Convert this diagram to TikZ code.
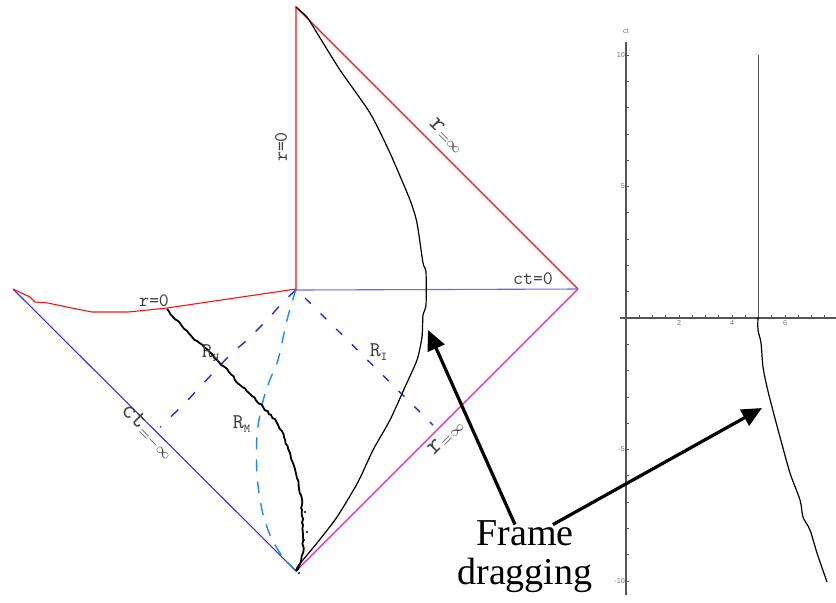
\documentclass[tikz,border=0pt]{standalone}
\usepackage{fontspec}
\setmainfont{Liberation Serif}
\setsansfont{Liberation Sans}
\usepackage{tikz}
\usetikzlibrary{arrows.meta,positioning,calc,decorations.pathmorphing}
\definecolor{nullred}{HTML}{FF1010}
\definecolor{nullblue}{HTML}{3A2CF0}
\definecolor{slicepurple}{HTML}{6A66F8}
\definecolor{scripink}{HTML}{F0209F}
\definecolor{dashblue}{HTML}{2626E6}
\definecolor{dashsky}{HTML}{1E88F5}
\definecolor{axisgray}{HTML}{555555}
\tikzset{
  edge/.style={line width=0.55pt,#1},
  edge/.default={nullred},
  horizon/.style={line width=0.7pt,#1},
  horizon/.default={dashblue},
  wline/.style={black,line width=0.6pt},
  jagged/.style={black,line width=0.9pt,decorate,
    decoration={random steps,segment length=1.6pt,amplitude=0.45pt}},
  lbl/.style={font=\ttfamily\fontsize{9.5}{9.5}\selectfont,text=black!75,inner sep=0pt},
  rlbl/.style={font=\ttfamily\fontsize{10.5}{10.5}\selectfont,text=black!75,inner sep=0pt},
  ticklbl/.style={font=\sffamily\fontsize{3.6}{4}\selectfont,text=black!55,inner sep=0pt},
  fdarrow/.style={-{Triangle[length=10pt,width=9pt]},line width=1.6pt},
}

\begin{document}
\begin{tikzpicture}[x=0.5pt,y=-0.5pt]
  \useasboundingbox (0,0) rectangle (836,602);
  % Penrose-like diagram
  \coordinate (top) at (296,7);
  \coordinate (orig) at (296,290);
  \coordinate (east) at (578,289);
  \coordinate (bot) at (296,571);
  \coordinate (west) at (13,289);
  \draw[edge] (orig) -- (top) -- (east);
  \draw[edge=slicepurple] (orig) -- (east);
  \draw[edge=nullblue] (west) -- (bot);
  \draw[edge=scripink] (bot) -- (east);
  \draw[edge] plot coordinates {(13,289) (30,297) (35,302) (48,303) (67,307)
    (92,312) (128,312) (167,308) (296,289)};

  % horizons
  \draw[horizon,dash pattern=on 5pt off 7pt] plot[smooth] coordinates {(296,290)
    (283,302) (267,320) (247,340) (230,355) (200,387) (183,405) (160,427)};
  \draw[horizon=dashsky,dash pattern=on 6pt off 5pt] plot[smooth] coordinates {(296,289)
    (287,320) (278,360) (269,382) (262,405) (257,435) (257,475) (262,510) (270,535)
    (280,553) (293,568)};
  \draw[horizon,dash pattern=on 4pt off 7pt] (orig) ++(9,8) -- (433,425);

  % world lines
  \pgfmathsetseed{7}
  \draw[jagged] plot coordinates {(167,309) (173,317) (182,326) (192,337) (205,348)
    (217,360) (229,372) (240,385) (252,396) (263,407) (271,415) (277,423) (284,437)
    (290,453) (294,466) (298,480) (301,495) (302,510) (303,525) (303,553) (299,566)
    (296,571)};
  \foreach \px/\py in {307/532, 305/512, 304/540, 299/573}
    \fill (\px,\py) circle (0.6pt);
  \draw[wline] plot[smooth,tension=0.4] coordinates {(296,7) (307,17) (317,33) (340,70)
    (370,113) (390,153) (410,200) (417,223) (423,263) (426,272) (426,305) (423,315)
    (422,337) (417,360) (405,387) (390,420) (373,450) (358,482) (337,517) (317,543)
    (298,566) (296,571)};

  % labels
  \node[lbl] (rzero) at (154,301) {r=0};
  \node[lbl,rotate=90] (rzeroaxis) at (281,147) {r=0};
  \node[lbl] (ctzero) at (533,279) {ct=0};
  \node[lbl,rotate=-45] (rinfup) at (447,136) {{\fontsize{13}{13}\selectfont r}$_{=\infty}$};
  \node[lbl,rotate=45] (rinfdown) at (446,437) {{\fontsize{13}{13}\selectfont r}$_{=\infty}$};
  \node[lbl,rotate=-45] (ctinf) at (148,432) {{\fontsize{13}{13}\selectfont ct}$_{=-\infty}$};
  \node[rlbl] (rh) at (211,353) {R\textsubscript{\fontsize{6}{6}\selectfont H}};
  \node[rlbl] (rm) at (242,424) {R\textsubscript{\fontsize{6}{6}\selectfont M}};
  \node[rlbl] (ri) at (379,352) {R\textsubscript{\fontsize{6}{6}\selectfont I}};

  % ct(r) plot
  \begin{scope}[shift={(626,318)},x=13.25pt,y=13.15pt]
    \draw[axisgray,line width=0.9pt] (0,-10.55) -- (0,10.5);
    \draw[axisgray,line width=0.9pt] (-0.23,0) -- (7.95,0);
    \foreach \k in {-10,...,10}
      \draw[axisgray,line width=0.35pt] (0,\k) -- ++(0.1,0);
    \foreach \k in {0.5,1,...,7.5}
      \draw[axisgray,line width=0.35pt] (\k,0) -- ++(0,0.1);
    \foreach \k in {2,4,6}
      \node[ticklbl] at (\k,-0.2) {\k};
    \foreach \k in {10,5,-5,-10}
      \node[ticklbl,anchor=east] at (-0.03,\k) {\k};
    \node[ticklbl] (ctlabel) at (0,10.9) {ct};
    \draw[axisgray,line width=0.75pt] (5,10) -- (5,0);
  \end{scope}
  \draw[wline] plot[smooth] coordinates {(758,317) (758,330) (761,343) (763,367)
    (767,387) (772,407) (780,437) (790,473) (800,500) (803,517) (810,530) (817,553)
    (827,582)};

  % annotation
  \node[font=\fontsize{19}{19.5}\selectfont,align=center,inner sep=0pt] (fd) at (525,557)
    {Frame\\dragging};
  \coordinate (tipleft) at (428,330);
  \coordinate (tipright) at (762,408);
  \draw[fdarrow] ([xshift=-5pt,yshift=-2pt]fd.north) -- (tipleft);
  \draw[fdarrow] ([xshift=-20pt,yshift=-2pt]fd.north east) -- (tipright);
\end{tikzpicture}
\end{document}
